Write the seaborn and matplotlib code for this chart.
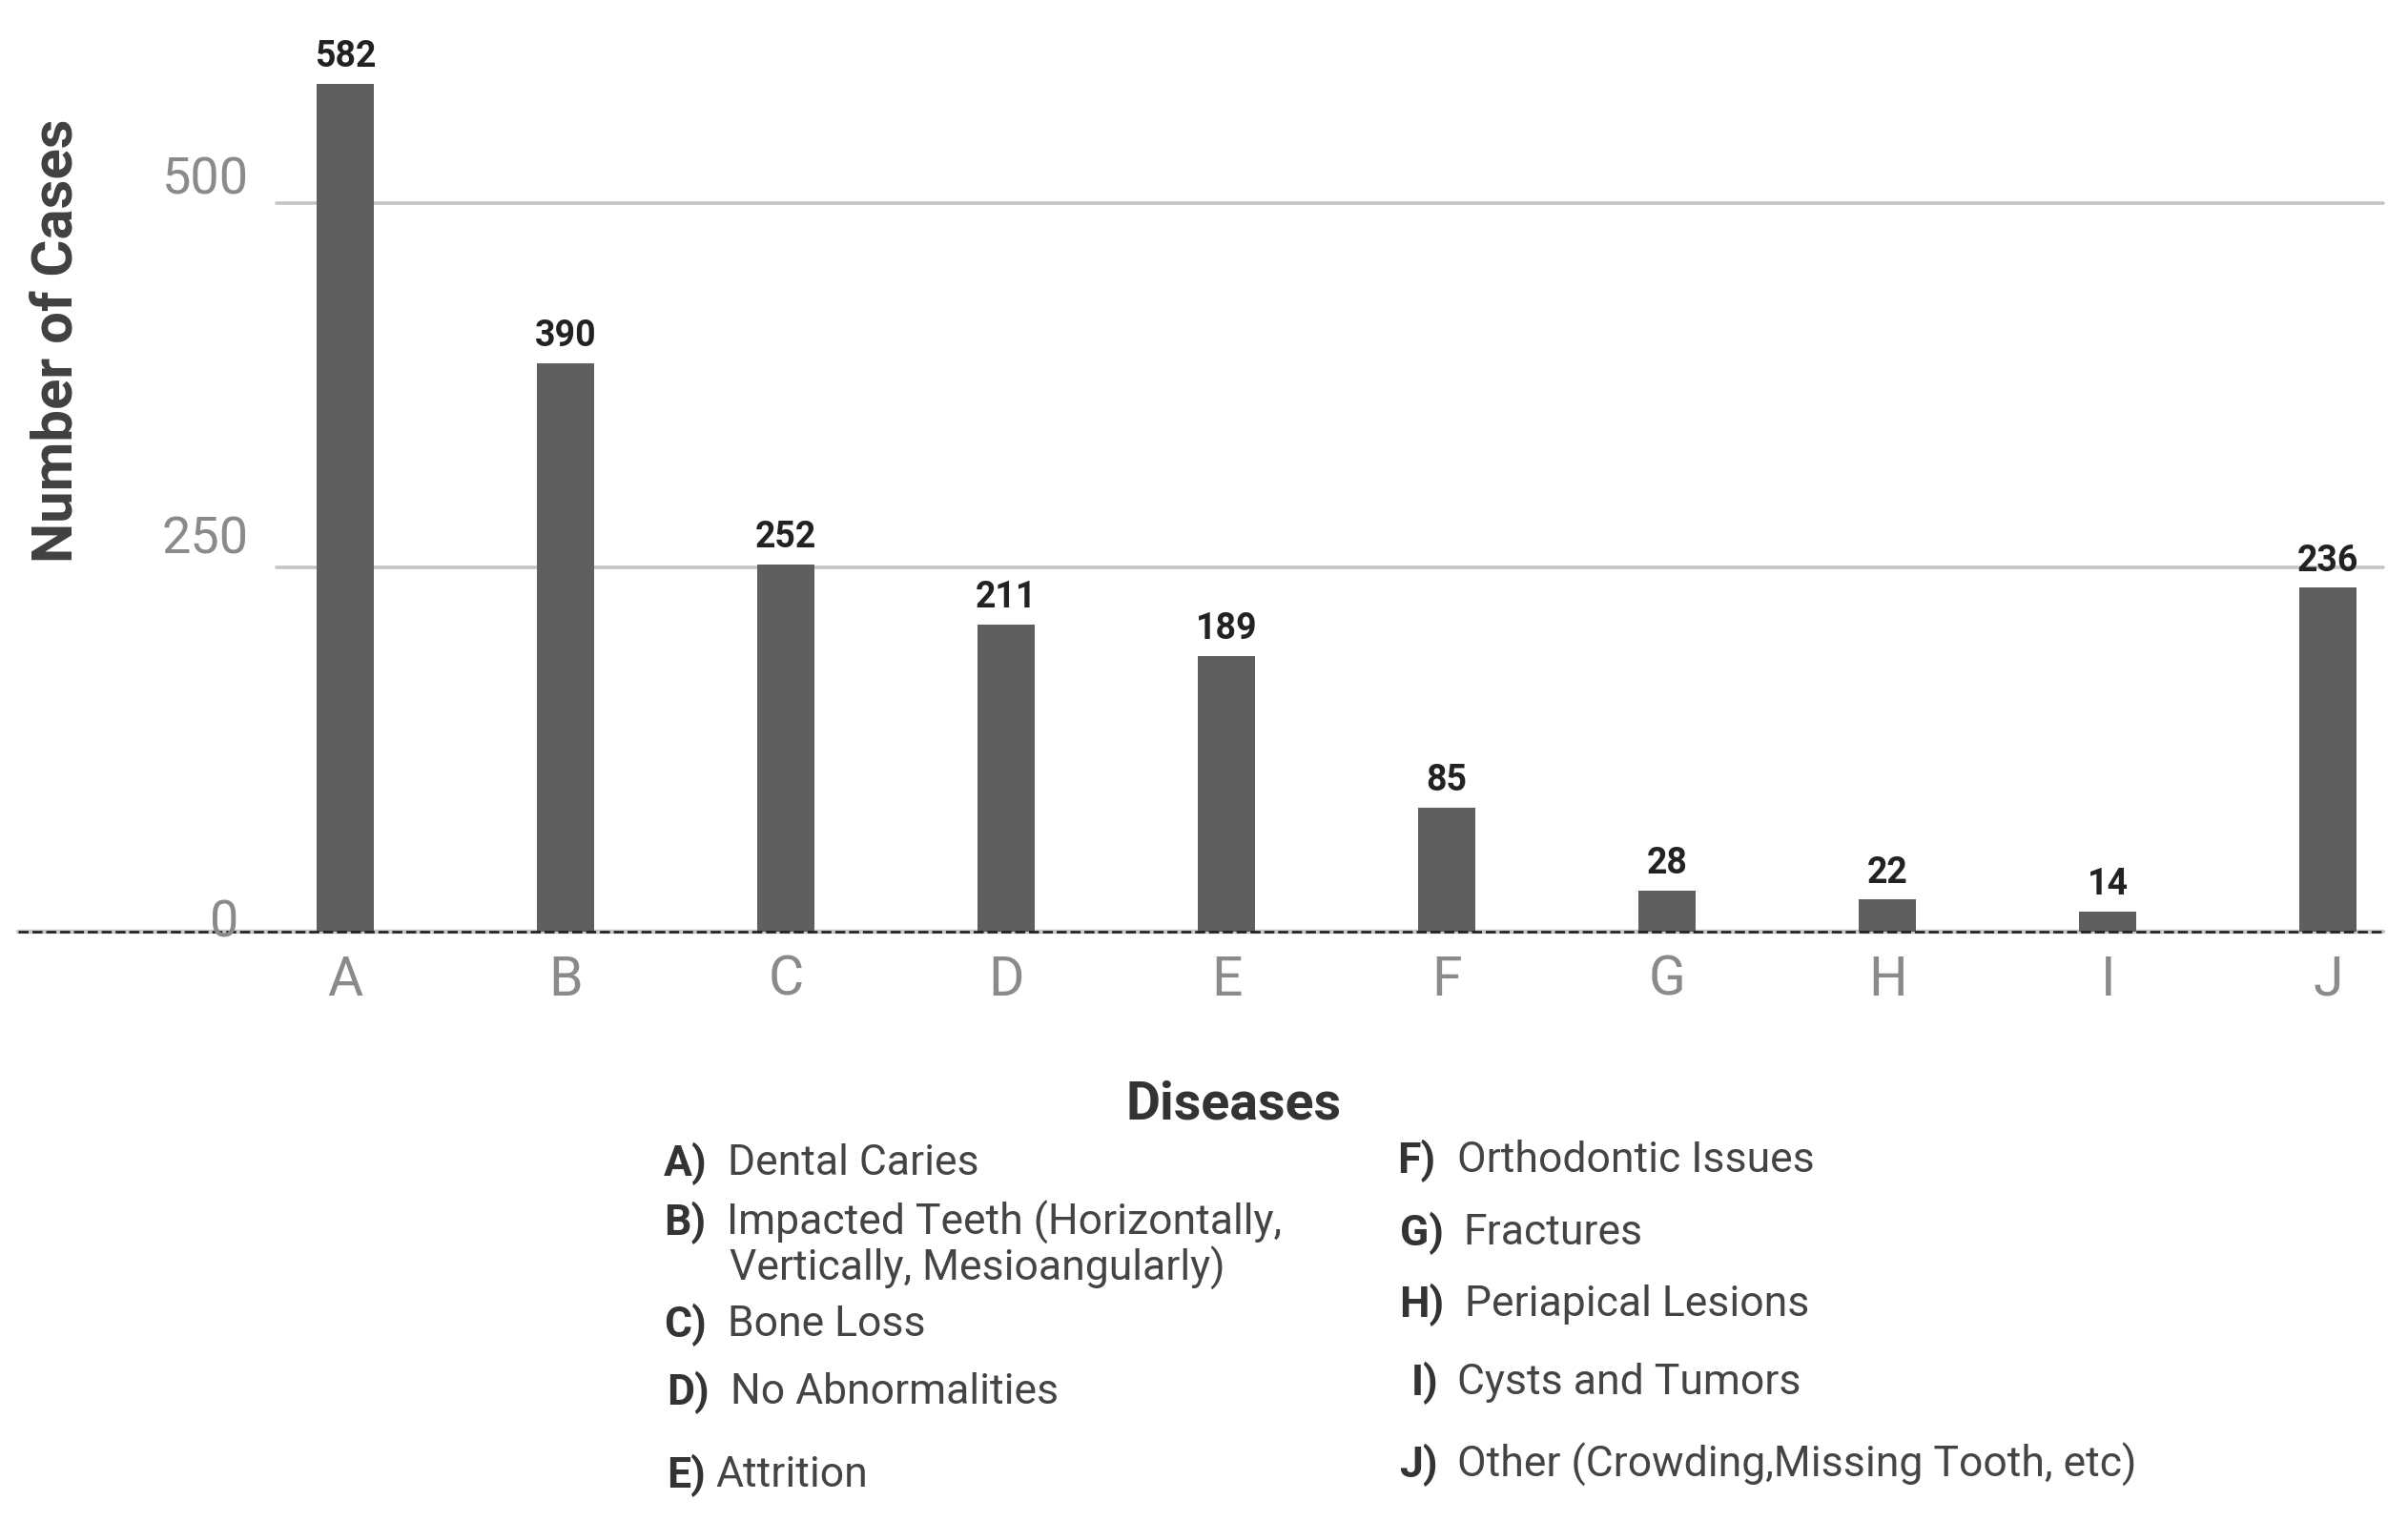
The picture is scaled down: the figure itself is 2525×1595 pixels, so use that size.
import matplotlib
matplotlib.use("Agg")
import matplotlib.pyplot as plt
import matplotlib.transforms as mtrans
import seaborn as sns
import pandas as pd

# ---- data ----
categories = ["A", "B", "C", "D", "E", "F", "G", "H", "I", "J"]
cases = [582, 390, 252, 211, 189, 85, 28, 22, 14, 236]
y_ticks = [0, 250, 500]
legend_codes = ["A)", "B)", "C)", "D)", "E)", "F)", "G)", "H)", "I)", "J)"]
legend_names = [
    "Dental Caries",
    "Impacted Teeth (Horizontally,\nVertically, Mesioangularly)",
    "Bone Loss",
    "No Abnormalities",
    "Attrition",
    "Orthodontic Issues",
    "Fractures",
    "Periapical Lesions",
    "Cysts and Tumors",
    "Other (Crowding,Missing Tooth, etc)",
]
x_title = "Diseases"
y_title = "Number of Cases"

sns.set_style("white")
plt.rcParams["font.family"] = ["Roboto", "DejaVu Sans"]

W, H = 2525, 1595
fig = plt.figure(figsize=(W / 100, H / 100), dpi=100)

def fx(px):
    return px / W

def fy(py):
    return 1 - py / H

ax_left, ax_right, ax_base = 19, 2499, 977
ymax = 620
ppu = 1.528
ax_top = ax_base - ymax * ppu
ax = fig.add_axes([fx(ax_left), fy(ax_base), fx(ax_right - ax_left), (ax_base - ax_top) / H])

df = pd.DataFrame({"cat": categories, "n": cases})
sns.barplot(data=df, x="cat", y="n", color="#5f5f5f", saturation=1, width=0.26,
            ax=ax, zorder=3, edgecolor="none")

ax.set_xlim(-1.485, 9.25)
ax.set_ylim(0, ymax)
sns.despine(ax=ax, left=True, bottom=True, top=True, right=True)
ax.set_xlabel("")
ax.set_ylabel("")
ax.set_yticks([])
ax.tick_params(axis="x", length=0, pad=17, labelsize=41, labelcolor="#8a8a8a")

# gridlines
for v in y_ticks:
    ax.axhline(v, xmin=(290 - ax_left) / (ax_right - ax_left), xmax=1,
               color="#c4c4c4", lw=2.6, zorder=1, clip_on=False)
ax.axhline(0, xmin=0, xmax=1, color="#c8c8c8", lw=3.2, zorder=1, clip_on=False)
ax.axhline(0, color="#1e1e1e", lw=1.9, linestyle=(0, (4, 1.5)), zorder=4, clip_on=False)

# y tick labels
blend = mtrans.blended_transform_factory(ax.transAxes, ax.transData)
tick_right = {0: 250, 250: 261, 500: 261}
tick_dy = {0: 9, 250: 29, 500: 24}
for v in y_ticks:
    ax.annotate(str(v), xy=((tick_right[v] - ax_left) / (ax_right - ax_left), v),
                xycoords=blend, xytext=(0, tick_dy[v]), textcoords="offset pixels",
                ha="right", va="center", fontsize=39, color="#8a8a8a", zorder=5)

# value labels
for cont in ax.containers:
    ax.bar_label(cont, labels=[str(v) for v in cases], padding=7,
                 fontsize=27, fontweight="bold", color="#222222")

# axis titles
fig.text(fx(60), fy(357), y_title, rotation=90, ha="center", va="center",
         fontsize=43, fontweight="bold", color="#404040")
fig.text(fx(1294), fy(1159), x_title, ha="center", va="center",
         fontsize=40, fontweight="bold", color="#333333")

# legend block
code_x = [696, 696, 696, 699, 699, 1465, 1468, 1467, 1480, 1467]
name_x = [763, 762, 763, 766, 750, 1528, 1534, 1536, 1528, 1528]
row_y = [1220, 1282, 1389, 1460, 1547, 1217, 1293, 1368, 1450, 1536]
for code, name, cx, nx, ry in zip(legend_codes, legend_names, code_x, name_x, row_y):
    fig.text(fx(cx), fy(ry), code, ha="left", va="center", fontsize=32,
             fontweight="bold", color="#333333")
    for k, line in enumerate(name.split("\n")):
        fig.text(fx(nx + 3 * k), fy(ry + 48 * k), line, ha="left", va="center",
                 fontsize=32, color="#444444")

fig.savefig("out.png", dpi=100)
